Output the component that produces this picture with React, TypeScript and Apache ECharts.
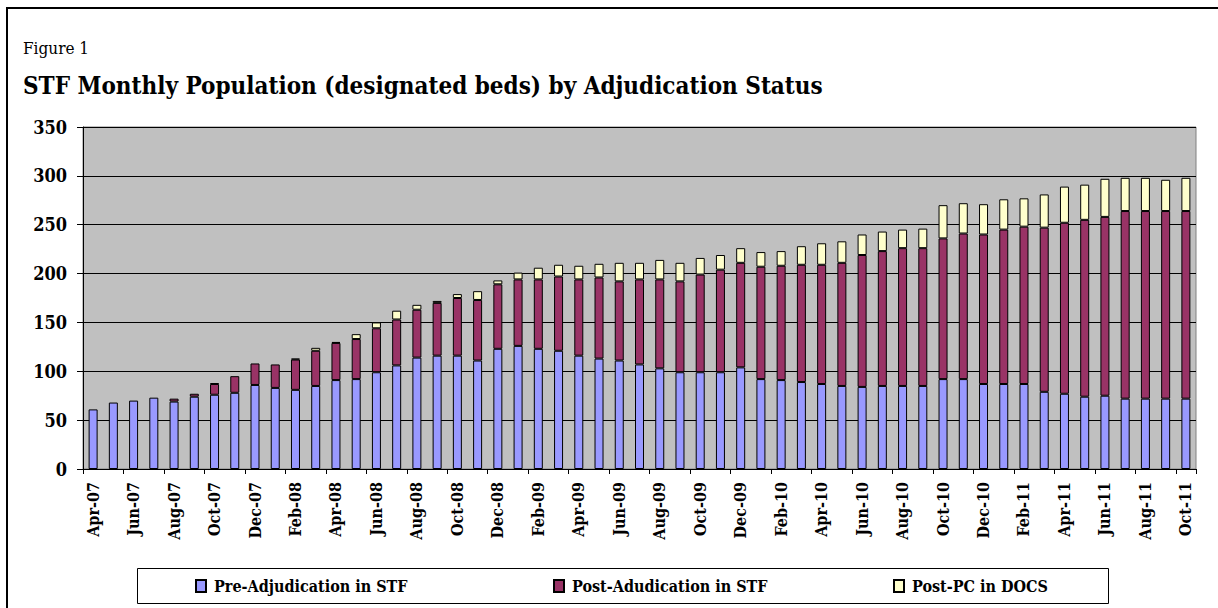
import React, { useEffect, useRef } from "react";
import * as echarts from "echarts";

const months = [
  "Apr-07", "May-07", "Jun-07", "Jul-07", "Aug-07", "Sep-07", "Oct-07", "Nov-07", "Dec-07",
  "Jan-08", "Feb-08", "Mar-08", "Apr-08", "May-08", "Jun-08", "Jul-08", "Aug-08", "Sep-08", "Oct-08", "Nov-08", "Dec-08",
  "Jan-09", "Feb-09", "Mar-09", "Apr-09", "May-09", "Jun-09", "Jul-09", "Aug-09", "Sep-09", "Oct-09", "Nov-09", "Dec-09",
  "Jan-10", "Feb-10", "Mar-10", "Apr-10", "May-10", "Jun-10", "Jul-10", "Aug-10", "Sep-10", "Oct-10", "Nov-10", "Dec-10",
  "Jan-11", "Feb-11", "Mar-11", "Apr-11", "May-11", "Jun-11", "Jul-11", "Aug-11", "Sep-11", "Oct-11",
];

const preAdjudication = [
  61, 68, 70, 73, 69, 74, 76, 78, 86, 83, 81, 85, 91,
  92, 99, 106, 114, 116, 116, 111, 123, 126, 123, 121, 116, 113, 111, 107,
  103, 99, 99, 99, 104, 92, 91, 89, 87, 85, 84, 85, 85, 85,
  92, 92, 87, 87, 87, 79, 77, 74, 75, 72, 72, 72, 72,
];

const postAdjudication = [
  0, 0, 0, 0, 3, 3, 11, 17, 22, 24, 31, 36, 38,
  41, 45, 47, 49, 54, 59, 62, 66, 68, 71, 76, 78, 83, 81, 87,
  91, 93, 100, 105, 107, 115, 117, 120, 122, 126, 135, 138, 141, 141,
  144, 149, 153, 158, 161, 168, 175, 181, 183, 192, 192, 192, 192,
];

const postPC = [
  0, 0, 0, 0, 0, 0, 1, 0, 0, 0, 1, 3, 1,
  5, 6, 9, 5, 2, 4, 9, 4, 7, 12, 12, 14, 14, 19, 17,
  20, 19, 17, 15, 15, 15, 15, 19, 22, 22, 21, 20, 19, 20,
  34, 31, 31, 31, 29, 34, 37, 36, 39, 34, 34, 32, 34,
];

const seriesNames = ["Pre-Adjudication in STF", "Post-Adudication in STF", "Post-PC in DOCS"];
const seriesColors = ["#9999FF", "#993366", "#FFFFCC"];
const yTicks = { min: 0, max: 350, interval: 50 };

const FONT = "'DejaVu Serif Condensed', 'DejaVu Serif', serif";

export default function App() {
  const ref = useRef<HTMLDivElement>(null);

  useEffect(() => {
    if (!ref.current) return;
    const chart = echarts.init(ref.current, undefined, { renderer: "svg" });
    const datasets = [preAdjudication, postAdjudication, postPC];
    const legendLeft = [195, 553, 893];

    chart.setOption({
      animation: false,
      backgroundColor: "#ffffff",
      textStyle: { fontFamily: FONT },
      grid: {
        left: 83,
        right: 22,
        top: 127,
        bottom: 139,
        show: true,
        backgroundColor: "#C0C0C0",
        borderColor: "#808080",
        borderWidth: 1,
        containLabel: false,
      },
      xAxis: {
        type: "category",
        data: months,
        axisLine: { show: true, lineStyle: { color: "#000", width: 1 } },
        axisTick: { show: true, interval: 1, length: 5, lineStyle: { color: "#000" } },
        axisLabel: {
          interval: 1,
          rotate: 90,
          margin: 13,
          fontSize: 16,
          fontWeight: "bold",
          color: "#000",
          fontFamily: FONT,
        },
        splitLine: { show: false },
      },
      yAxis: {
        type: "value",
        min: yTicks.min,
        max: yTicks.max,
        interval: yTicks.interval,
        axisLine: { show: true, lineStyle: { color: "#000", width: 1 } },
        axisTick: { show: true, length: 6, lineStyle: { color: "#000" } },
        axisLabel: {
          margin: 16,
          fontSize: 18,
          fontWeight: "bold",
          color: "#000",
          fontFamily: FONT,
        },
        splitLine: { show: true, lineStyle: { color: "#000", width: 1 } },
      },
      legend: seriesNames.map((name, i) => ({
        data: [name],
        left: legendLeft[i],
        top: 578,
        padding: 0,
        itemWidth: 10,
        itemHeight: 12,
        icon: "rect",
        textStyle: {
          fontSize: 16,
          fontWeight: "bold",
          color: "#000",
          fontFamily: FONT,
          padding: [0, 0, 0, 3],
        },
      })),
      series: datasets.map((d, i) => ({
        name: seriesNames[i],
        type: "bar",
        stack: "total",
        barWidth: 9,
        data: d.map((v) => (v === 0 ? null : v)),
        itemStyle: { color: seriesColors[i], borderColor: "#000", borderWidth: 1 },
      })),
      graphic: [
        {
          type: "rect",
          shape: { x: 7, y: 8, width: 1230, height: 620 },
          style: { fill: "none", stroke: "#000", lineWidth: 2 },
          silent: true,
          z: 100,
        },
        {
          type: "rect",
          shape: { x: 137.5, y: 568.5, width: 971, height: 35 },
          style: { fill: "none", stroke: "#000", lineWidth: 1 },
          silent: true,
          z: 100,
        },
        {
          type: "text",
          x: 23,
          y: 48,
          style: {
            text: "Figure 1",
            font: `17px ${FONT}`,
            fill: "#000",
            verticalAlign: "middle",
          },
        },
        {
          type: "text",
          x: 23,
          y: 85,
          style: {
            text: "STF Monthly Population (designated beds) by Adjudication Status",
            font: `bold 24px ${FONT}`,
            fill: "#000",
            verticalAlign: "middle",
          },
        },
      ],
    });

    return () => chart.dispose();
  }, []);

  return (
    <div
      ref={ref}
      style={{ position: "absolute", left: 0, top: 0, width: 1218, height: 608 }}
    />
  );
}
